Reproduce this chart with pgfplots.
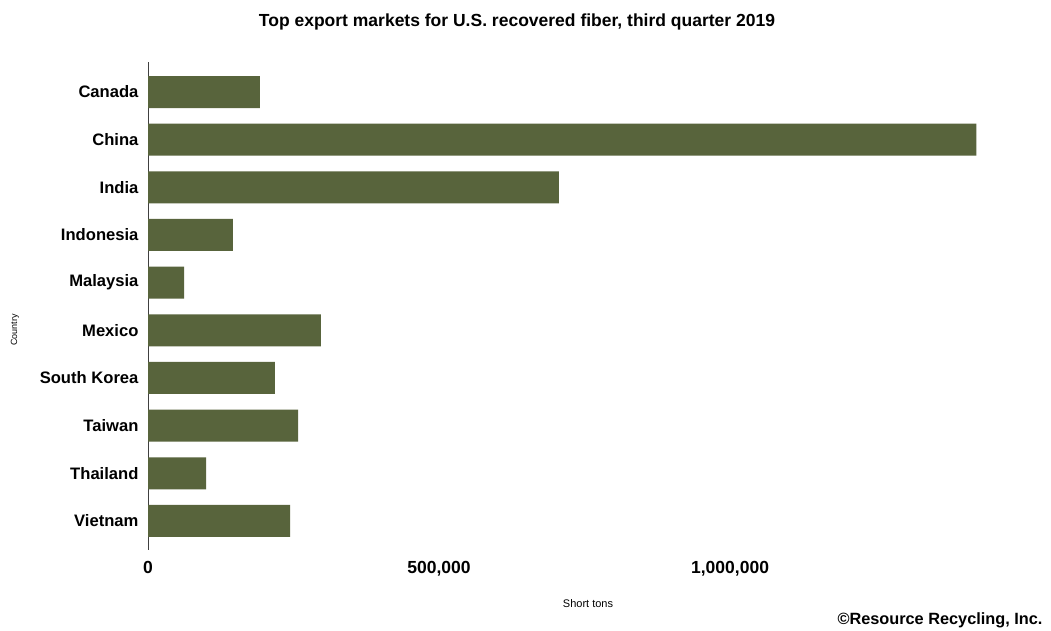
\documentclass[border=0pt]{standalone}
\usepackage{fontspec}
\setmainfont{Liberation Sans}
\usepackage{pgfplots}
\pgfplotsset{compat=1.18}
\definecolor{barolive}{RGB}{88,100,60}
\begin{document}
\begin{tikzpicture}[x=1pt,y=1pt]
\path[use as bounding box,fill=white] (0,0) rectangle (1051,631);
\begin{axis}[
  at={(148pt,81pt)}, anchor=south west, scale only axis,
  width=844pt, height=488pt,
  xmin=0, xmax=1450000, ymin=-0.61, ymax=9.63,
  axis x line=bottom, axis y line=left,
  x axis line style={draw=none},
  y axis line style={black!75, line width=0.9pt, -},
  scaled x ticks=false,
  xtick={0,500000,1000000}, xticklabels={0,{500,000},{1,000,000}},
  ytick={0,...,9},
  yticklabels={Vietnam,Thailand,Taiwan,South Korea,Mexico,Malaysia,Indonesia,India,China,Canada},
  major tick length=0pt,
  xticklabel style={font=\fontsize{17.5}{18}\selectfont\bfseries, yshift=-8pt},
  yticklabel style={font=\fontsize{16.6}{17}\selectfont\bfseries, xshift=-6pt},
  xbar, bar width=32pt,
]
\addplot[fill=barolive, draw=none] coordinates {
  (244000,0) (100000,1) (258000,2) (218000,3) (297000,4)
  (62000,5) (146000,6) (706000,7) (1423000,8) (192000,9)};
\end{axis}
\node[font=\fontsize{17.5}{18}\selectfont\bfseries] at (517,609) {Top export markets for U.S. recovered fiber, third quarter 2019};
\node[font=\fontsize{9}{9}\selectfont, rotate=90] at (15,301) {Country};
\node[font=\fontsize{11}{11}\selectfont] at (588,27) {Short tons};
\node[font=\fontsize{16.3}{17}\selectfont\bfseries, anchor=east] at (1046,11) {©Resource Recycling, Inc.};
\end{tikzpicture}
\end{document}
